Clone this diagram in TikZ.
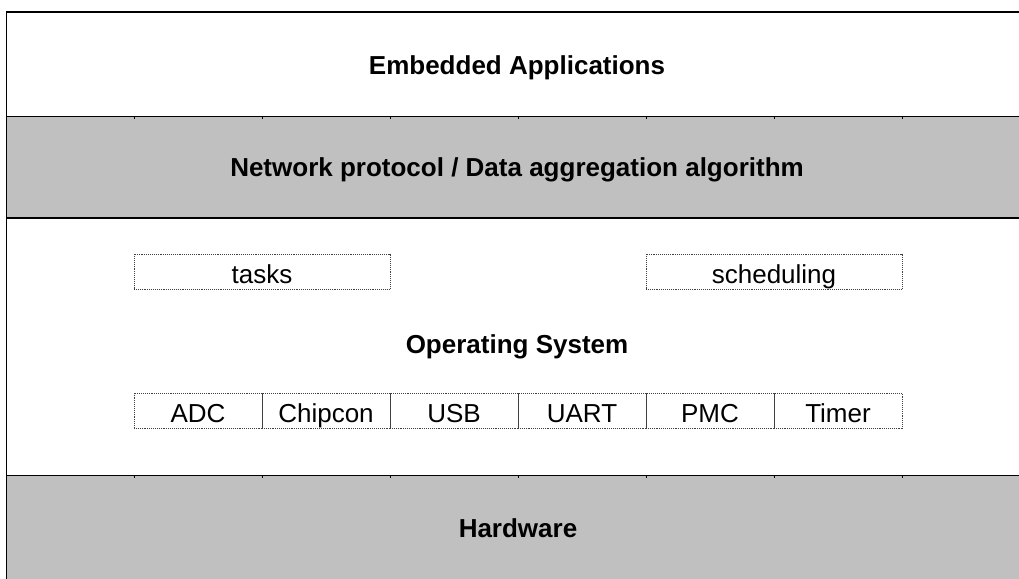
\documentclass[tikz,border=0pt]{standalone}
\usepackage{fontspec}
\setmainfont{Liberation Sans}
\definecolor{layergray}{HTML}{C0C0C0}
\begin{document}
\begin{tikzpicture}[x=1pt,y=-1pt,
  layertitle/.style={anchor=base,inner sep=0pt,font=\fontsize{26}{30}\selectfont\bfseries},
  cellbox/.style={draw=black!75,densely dotted,line width=0.9pt,
    minimum width=128pt,minimum height=35pt,inner sep=0pt,
    text height=23pt,text depth=0pt,font=\fontsize{26}{30}\selectfont},
  widebox/.style={cellbox,minimum width=256pt},
  rule/.style={black,line width=1.4pt},
  thickrule/.style={black,line width=2pt},
  tick/.style={black,line width=1pt}]
\useasboundingbox (0,0) rectangle (1019,578);
\clip (0,0) rectangle (1019,578);
\fill[white] (0,0) rectangle (1019,578);

% shaded layers
\fill[layergray] (7,116.5) rectangle (1040,218);
\fill[layergray] (7,475.5) rectangle (1040,600);

% layer borders
\draw[thickrule] (6.5,12) -- (1040,12);
\draw[rule] (6.5,116.5) -- (1040,116.5);
\draw[thickrule] (6.5,218) -- (1040,218);
\draw[rule] (6.5,475.5) -- (1040,475.5);
\draw[rule] (6.5,11) -- (6.5,600);

% column ticks along the shaded layers
\foreach \k in {0,...,6}{
  \draw[tick] (134+128*\k,116.5) -- (134+128*\k,119);
  \draw[tick] (134+128*\k,475.5) -- (134+128*\k,478);
}

% layer titles
\node[layertitle] (apps) at (517,74.3) {Embedded Applications};
\node[layertitle] (net)  at (517,176.7) {Network protocol / Data aggregation algorithm};
\node[layertitle] (os)   at (517,353) {Operating System};
\node[layertitle] (hw)   at (518,537.3) {Hardware};

% operating system services
\node[widebox] (tasks) at (262,271.5) {tasks};
\node[widebox] (sched) at (774,271.5) {scheduling};

% drivers
\node[cellbox] (adc)   at (198,410.5) {ADC};
\node[cellbox] (chip)  at (326,410.5) {Chipcon};
\node[cellbox] (usb)   at (454,410.5) {USB};
\node[cellbox] (uart)  at (582,410.5) {UART};
\node[cellbox] (pmc)   at (710,410.5) {PMC};
\node[cellbox] (timer) at (838,410.5) {Timer};
\end{tikzpicture}
\end{document}
